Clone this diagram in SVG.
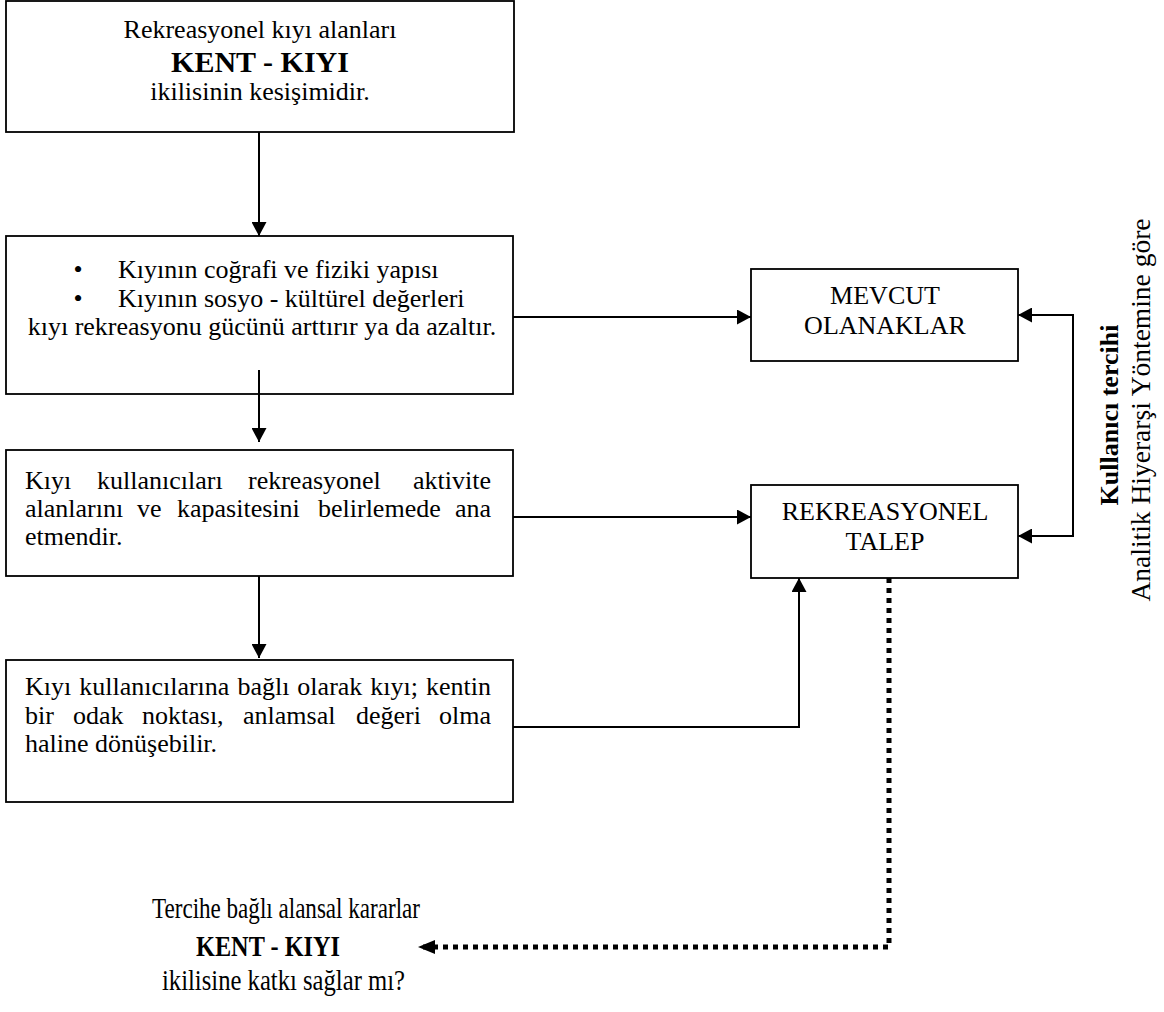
<svg xmlns="http://www.w3.org/2000/svg" width="1164" height="1012" viewBox="0 0 1164 1012">
  <style>
    text { font-family: "Liberation Serif", "Times New Roman", serif; font-size: 26px; fill: #000; }
    .c { text-anchor: middle; }
    .b { font-weight: bold; }
    .big { font-size: 29px; }
    .kk { font-size: 30px; font-weight: bold; }
    .side { font-size: 27.5px; }
    .box { fill: #fff; stroke: #000; stroke-width: 1.8; }
    .ln { fill: none; stroke: #000; stroke-width: 2; }
    .dot { fill: none; stroke: #000; stroke-width: 5; stroke-dasharray: 5 5; }
  </style>
  <defs>
    <marker id="ah" viewBox="0 0 14 15" refX="14" refY="7.5" markerWidth="14" markerHeight="15" markerUnits="userSpaceOnUse" orient="auto-start-reverse">
      <path d="M0,0 L14,7.5 L0,15 z" fill="#000"/>
    </marker>
    <marker id="ahd" viewBox="0 0 17 14" refX="17" refY="7" markerWidth="17" markerHeight="14" markerUnits="userSpaceOnUse" orient="auto">
      <path d="M0,0 L17,7 L0,14 z" fill="#000"/>
    </marker>
  </defs>

  <rect width="1164" height="1012" fill="#fff"/>

  <!-- top box -->
  <g id="node-kent-kiyi">
    <rect class="box" x="6" y="1" width="508" height="131"/>
    <text class="c" x="260" y="38">Rekreasyonel kıyı alanları</text>
    <text class="c kk" x="260" y="72">KENT - KIYI</text>
    <text class="c" x="260" y="100">ikilisinin kesişimidir.</text>
  </g>

  <!-- coast structure box -->
  <g id="node-kiyi-yapisi">
    <rect class="box" x="6" y="236" width="507" height="158"/>
    <text class="c" x="78" y="278">•</text>
    <text x="118" y="278">Kıyının coğrafi ve fiziki yapısı</text>
    <text class="c" x="78" y="307">•</text>
    <text x="118" y="307">Kıyının sosyo - kültürel değerleri</text>
    <text class="c" x="262" y="335">kıyı rekreasyonu gücünü arttırır ya da azaltır.</text>
  </g>

  <!-- users box -->
  <g id="node-kullanicilar">
    <rect class="box" x="6" y="450" width="507" height="126"/>
    <text y="489"><tspan x="25">Kıyı</tspan><tspan x="97">kullanıcıları</tspan><tspan x="248">rekreasyonel</tspan><tspan x="491" text-anchor="end">aktivite</tspan></text>
    <text y="517"><tspan x="25">alanlarını</tspan><tspan x="137">ve</tspan><tspan x="177">kapasitesini</tspan><tspan x="318">belirlemede</tspan><tspan x="491" text-anchor="end">ana</tspan></text>
    <text x="25" y="545">etmendir.</text>
  </g>

  <!-- focal point box -->
  <g id="node-odak-noktasi">
    <rect class="box" x="6" y="660" width="507" height="142"/>
    <text x="25" y="695" word-spacing="1.5">Kıyı kullanıcılarına bağlı olarak kıyı; kentin</text>
    <text y="724"><tspan x="25">bir</tspan><tspan x="73">odak</tspan><tspan x="142">noktası,</tspan><tspan x="243">anlamsal</tspan><tspan x="356">değeri</tspan><tspan x="491" text-anchor="end">olma</tspan></text>
    <text x="25" y="752">haline dönüşebilir.</text>
  </g>

  <!-- existing facilities -->
  <g id="node-mevcut">
    <rect class="box" x="751" y="269" width="267" height="92"/>
    <text class="c" x="885" y="304">MEVCUT</text>
    <text class="c" x="885" y="334">OLANAKLAR</text>
  </g>

  <!-- recreational demand -->
  <g id="node-talep">
    <rect class="box" x="751" y="485" width="267" height="93"/>
    <text class="c" x="885" y="520">REKREASYONEL</text>
    <text class="c" x="885" y="550">TALEP</text>
  </g>

  <!-- side label -->
  <g id="label-tercih">
    <text class="c b" transform="translate(1118,415) rotate(-90)">Kullanıcı tercihi</text>
    <text class="c side" transform="translate(1150,410) rotate(-90)">Analitik Hiyerarşi Yöntemine göre</text>
  </g>

  <!-- closing question -->
  <g id="node-soru">
    <text class="big" x="152" y="918" textLength="268" lengthAdjust="spacingAndGlyphs">Tercihe bağlı alansal kararlar</text>
    <text class="kk" x="196" y="956" textLength="144" lengthAdjust="spacingAndGlyphs">KENT - KIYI</text>
    <text class="big" x="162" y="990" textLength="243" lengthAdjust="spacingAndGlyphs">ikilisine katkı sağlar mı?</text>
  </g>

  <!-- connectors -->
  <g id="connectors">
    <line class="ln" x1="259" y1="132" x2="259" y2="236" marker-end="url(#ah)"/>
    <line class="ln" x1="259" y1="370" x2="259" y2="442" marker-end="url(#ah)"/>
    <line class="ln" x1="259" y1="576" x2="259" y2="658" marker-end="url(#ah)"/>
    <line class="ln" x1="513" y1="317" x2="751" y2="317" marker-end="url(#ah)"/>
    <line class="ln" x1="513" y1="517" x2="751" y2="517" marker-end="url(#ah)"/>
    <path class="ln" d="M1018,315 H1073 V536 H1018" marker-start="url(#ah)" marker-end="url(#ah)"/>
    <path class="ln" d="M513,727 H799 V578" marker-end="url(#ah)"/>
    <path class="dot" d="M889,578 V947 H418" marker-end="url(#ahd)"/>
  </g>
</svg>
